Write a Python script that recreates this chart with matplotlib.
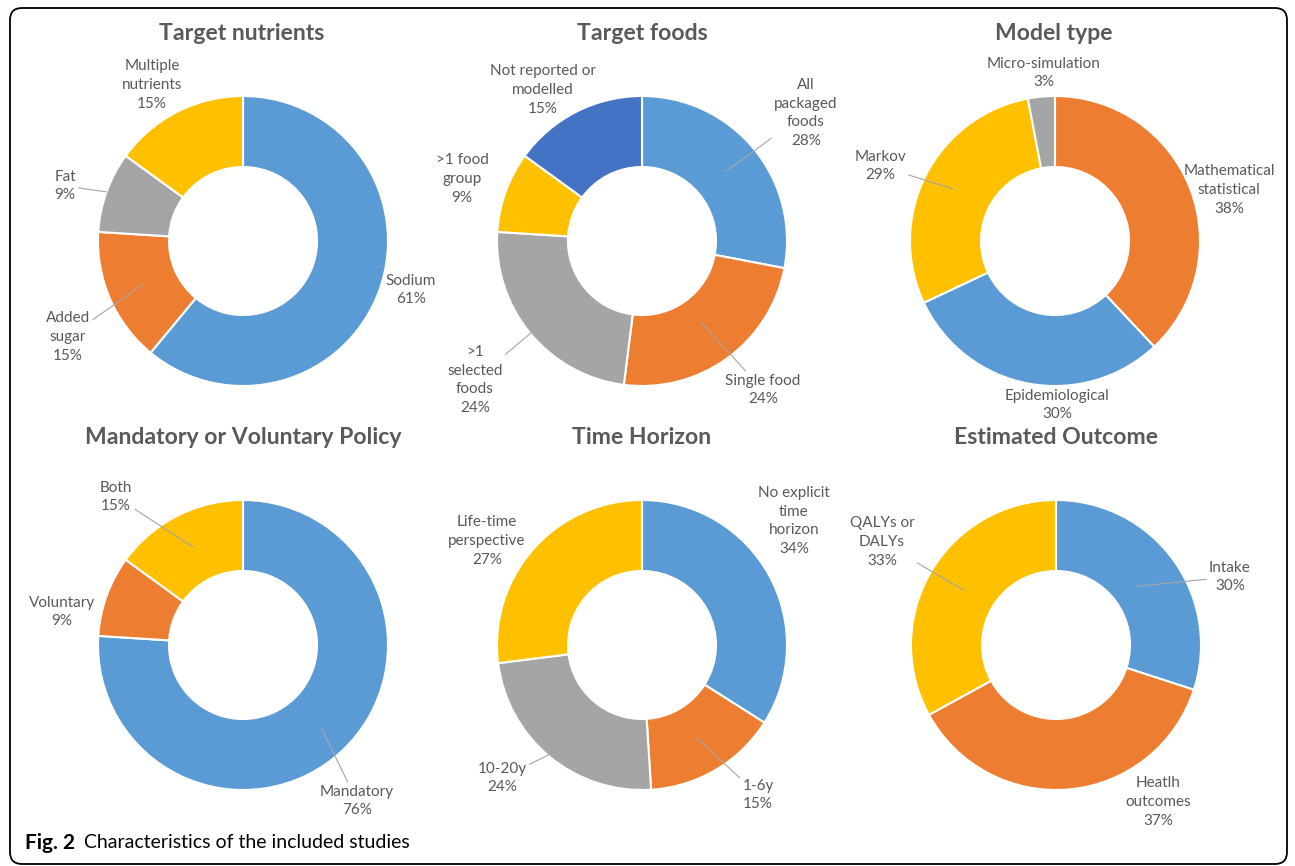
import matplotlib
matplotlib.use("Agg")
import matplotlib.pyplot as plt
from matplotlib.patches import FancyBboxPatch
import numpy as np

plt.rcParams['font.family'] = ['Lato', 'DejaVu Sans']

W, H = 1295, 866

BLUE = '#5B9BD5'
ORANGE = '#ED7D31'
GRAY = '#A5A5A5'
YELLOW = '#FFC000'
DARKBLUE = '#4472C4'
TXT = '#595959'

# data
titles = ['Target nutrients', 'Target foods', 'Model type',
          'Mandatory or Voluntary Policy', 'Time Horizon', 'Estimated Outcome']

nutr_labels = ['Sodium', 'Added\nsugar', 'Fat', 'Multiple\nnutrients']
nutr_values = [61, 15, 9, 15]

foods_labels = ['All\npackaged\nfoods', 'Single food', '>1\nselected\nfoods',
                '>1 food\ngroup', 'Not reported or\nmodelled']
foods_values = [28, 24, 24, 9, 15]

model_labels = ['Mathematical\nstatistical', 'Epidemiological', 'Markov',
                'Micro-simulation']
model_values = [38, 30, 29, 3]

policy_labels = ['Mandatory', 'Voluntary', 'Both']
policy_values = [76, 9, 15]

time_labels = ['No explicit\ntime\nhorizon', '1-6y', '10-20y',
               'Life-time\nperspective']
time_values = [34, 15, 24, 27]

outcome_labels = ['Intake', 'Heatlh\noutcomes', 'QALYs or\nDALYs']
outcome_values = [30, 37, 33]

charts = [
    (nutr_labels, nutr_values, [BLUE, ORANGE, GRAY, YELLOW]),
    (foods_labels, foods_values, [BLUE, ORANGE, GRAY, YELLOW, DARKBLUE]),
    (model_labels, model_values, [ORANGE, BLUE, YELLOW, GRAY]),
    (policy_labels, policy_values, [BLUE, ORANGE, YELLOW]),
    (time_labels, time_values, [BLUE, ORANGE, GRAY, YELLOW]),
    (outcome_labels, outcome_values, [BLUE, ORANGE, YELLOW]),
]

# layout (pixels from top-left)
centers = [(243, 241), (642, 241), (1055, 241),
           (243, 645), (642, 645), (1056, 645)]
title_pos = [(242, 34), (642, 34), (1054, 34),
             (243, 438), (642, 438), (1056, 438)]
R = 145
RING = 71
# label positions and leader anchor radius (None = no leader line)
label_pos = [
    [(411, 290, None), (68, 337, 108), (65, 186, 145), (152, 85, None)],
    [(806, 113, 110), (763, 390, 100), (475, 380, 140), (462, 179, None), (543, 90, None)],
    [(1229, 190, None), (1057, 405, None), (880, 166, 115), (1044, 73, None)],
    [(357, 801, 115), (62, 612, None), (116, 497, 110)],
    [(794, 521, None), (758, 795, 108), (502, 778, 140), (487, 541, None)],
    [(1230, 577, 100), (1158, 802, None), (882, 542, 108)],
]
LABEL_SIZE = 11
LINESP = 1.42


def Y(py):
    return H - py


fig = plt.figure(figsize=(W / 100, H / 100), dpi=100)
ax = fig.add_axes([0, 0, 1, 1])

for i, (labels, values, colors) in enumerate(charts):
    cx, cy = centers[i]
    ax.pie(values, colors=colors, center=(cx, Y(cy)), radius=R,
           startangle=90, counterclock=False,
           wedgeprops=dict(width=RING, edgecolor='white', linewidth=1.5))
    tx, ty = title_pos[i]
    ax.text(tx, Y(ty), titles[i], ha='center', va='center', fontsize=16.6,
            fontweight='bold', color=TXT)
    total = float(sum(values))
    start = 90.0
    for lab, v, (lx, ly, ar) in zip(labels, values, label_pos[i]):
        mid = start - v / total * 180.0
        start -= v / total * 360.0
        s = '%s\n%d%%' % (lab, round(v / total * 100))
        if ar is None:
            ax.text(lx, Y(ly), s, ha='center', va='center', fontsize=LABEL_SIZE,
                    color=TXT, linespacing=LINESP)
        else:
            a = np.deg2rad(mid)
            ax.annotate(s, xy=(cx + ar * np.cos(a), Y(cy) + ar * np.sin(a)),
                        xytext=(lx, Y(ly)), ha='center', va='center',
                        fontsize=LABEL_SIZE, color=TXT, linespacing=LINESP,
                        arrowprops=dict(arrowstyle='-', color='#A6A6A6',
                                        lw=0.8, shrinkA=0, shrinkB=0))

# frame around the figure
frame = FancyBboxPatch((10, Y(864)), 1277, 856,
                       boxstyle='round,pad=0,rounding_size=12',
                       fill=False, edgecolor='black', linewidth=1.3)
ax.add_patch(frame)

ax.text(25, Y(843), 'Fig. 2', ha='left', va='center', fontsize=15,
        fontweight='bold', color='black')
ax.text(84, Y(843), 'Characteristics of the included studies', ha='left',
        va='center', fontsize=14, color='black')

ax.set_xlim(0, W)
ax.set_ylim(0, H)
ax.set_aspect('equal')
ax.axis('off')

fig.savefig('out.png', dpi=100)
